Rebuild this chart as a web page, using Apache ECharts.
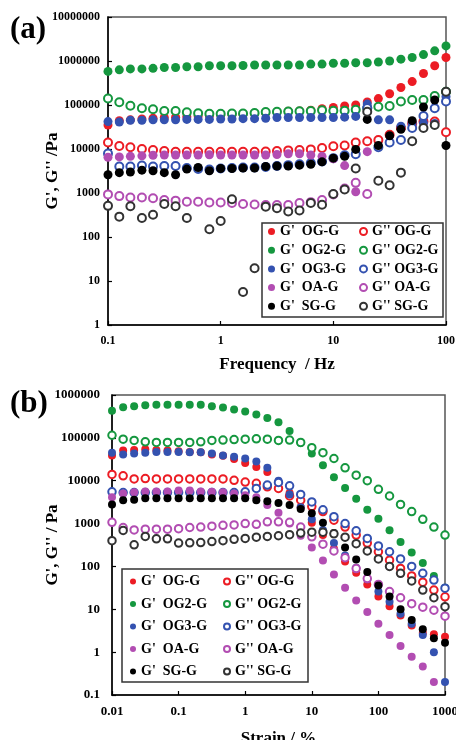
<!DOCTYPE html>
<html>
<head>
<meta charset="utf-8">
<title>G', G'' sweeps</title>
<script src="https://cdn.jsdelivr.net/npm/echarts@6/dist/echarts.min.js"></script>
<style>
    html, body { margin: 0; padding: 0; background: #fff; }
    #chart { width: 456px; height: 740px; }
</style>
</head>
<body>
<div id="chart"></div>
<script>
// (a) frequency sweep, 10 points per decade
const freqA = [0.1, 0.126, 0.158, 0.2, 0.251, 0.316, 0.398, 0.501, 0.631, 0.794,
    1, 1.26, 1.58, 2, 2.51, 3.16, 3.98, 5.01, 6.31, 7.94,
    10, 12.6, 15.8, 20, 25.1, 31.6, 39.8, 50.1, 63.1, 79.4, 100];

const a_OG_Gp = [3.5e4, 4.4e4, 4.6e4, 4.8e4, 5.0e4, 5.2e4, 5.3e4, 5.4e4, 5.6e4, 5.7e4, 5.9e4, 6.0e4, 6.2e4, 6.4e4, 6.6e4, 7.0e4, 7.2e4, 7.3e4, 7.6e4, 8.2e4, 8.8e4, 9.5e4, 1.0e5, 1.17e5, 1.4e5, 1.8e5, 2.5e5, 3.4e5, 5.2e5, 7.8e5, 1.2e6];
const a_OG_Gpp = [1.4e4, 1.17e4, 1.1e4, 1.0e4, 9.5e3, 9.0e3, 8.7e3, 8.7e3, 8.7e3, 8.7e3, 8.7e3, 8.7e3, 8.7e3, 8.7e3, 8.8e3, 9.0e3, 9.3e3, 9.5e3, 9.8e3, 1.05e4, 1.15e4, 1.2e4, 1.4e4, 1.5e4, 1.6e4, 2.1e4, 3.0e4, 3.8e4, 4.2e4, 4.2e4, 2.4e4];
const a_OG2_Gp = [5.8e5, 6.3e5, 6.6e5, 6.6e5, 6.8e5, 7.1e5, 7.1e5, 7.4e5, 7.4e5, 7.8e5, 7.8e5, 7.8e5, 7.9e5, 8.1e5, 8.1e5, 8.1e5, 8.1e5, 8.1e5, 8.5e5, 8.5e5, 8.9e5, 8.9e5, 9.1e5, 9.1e5, 9.5e5, 1.0e6, 1.1e6, 1.2e6, 1.4e6, 1.7e6, 2.2e6];
const a_OG2_Gpp = [1.4e5, 1.15e5, 9.6e4, 8.4e4, 8.0e4, 7.3e4, 7.3e4, 6.8e4, 6.5e4, 6.3e4, 6.3e4, 6.4e4, 6.4e4, 6.6e4, 6.9e4, 7.0e4, 7.1e4, 7.2e4, 7.3e4, 7.6e4, 7.4e4, 7.4e4, 7.8e4, 8.5e4, 9.1e4, 9.5e4, 1.2e5, 1.3e5, 1.3e5, 1.6e5, 2.0e5];
const a_OG3_Gp = [4.2e4, 4.1e4, 4.5e4, 4.5e4, 4.6e4, 4.6e4, 4.6e4, 4.7e4, 4.7e4, 4.7e4, 4.8e4, 4.8e4, 4.9e4, 4.9e4, 5.0e4, 5.2e4, 5.2e4, 5.2e4, 5.2e4, 5.2e4, 5.2e4, 5.3e4, 5.5e4, 1.05e5, 4.6e4, 4.6e4, 3.3e4, 3.9e4, 3.9e4, 3.8e4, 1.55e5];
const a_OG3_Gpp = [7.9e3, 4.0e3, 4.0e3, 4.2e3, 4.0e3, 4.1e3, 4.1e3, 3.7e3, 3.5e3, 3.4e3, 3.6e3, 3.7e3, 3.8e3, 3.8e3, 3.9e3, 4.1e3, 4.3e3, 4.5e3, 4.8e3, 5.2e3, 6.2e3, 7.2e3, 7.6e3, 8.5e4, 1.1e4, 1.4e4, 1.6e4, 3.0e4, 5.6e4, 8.4e4, 1.2e5];
const a_OA_Gp = [6.5e3, 6.6e3, 6.8e3, 7.0e3, 7.2e3, 7.3e3, 7.3e3, 7.3e3, 7.3e3, 7.4e3, 7.3e3, 7.3e3, 7.3e3, 7.3e3, 7.3e3, 7.5e3, 7.8e3, 7.8e3, 7.3e3, 6.8e3, 6.0e3, 4.2e3, 1.07e3, 8.7e3, null, null, null, null, null, null, null];
const a_OA_Gpp = [930, 850, 790, 790, 760, 690, 670, 630, 630, 610, 610, 590, 560, 550, 535, 535, 535, 590, 620, 690, 930, 1260, 1700, 950, null, null, null, null, null, null, null];
const a_SG_Gp = [2.6e3, 2.9e3, 3.0e3, 3.3e3, 3.2e3, 2.9e3, 2.6e3, 3.5e3, 3.8e3, 3.2e3, 3.6e3, 3.6e3, 3.7e3, 3.7e3, 4.0e3, 4.1e3, 4.1e3, 4.3e3, 4.5e3, 5.1e3, 6.2e3, 6.8e3, 9.8e3, 4.7e4, 1.2e4, 2.0e4, 2.8e4, 4.4e4, 9.0e4, 1.3e5, 1.2e4];
const a_SG_Gpp = [510, 290, 500, 270, 320, 560, 500, 270, null, 150, 230, 720, 5.6, 19.5, 490, 450, 380, 400, 590, 540, 950, 1200, 3600, 7.0e4, 1900, 1500, 2900, 1.5e4, 3.0e4, 3.5e4, 2.0e5];

// (b) strain sweep, 6 points per decade
const strainB = [0.01, 0.0147, 0.0215, 0.0316, 0.0464, 0.0681, 0.1, 0.147, 0.215, 0.316, 0.464, 0.681,
    1, 1.47, 2.15, 3.16, 4.64, 6.81, 10, 14.7, 21.5, 31.6, 46.4, 68.1,
    100, 147, 215, 316, 464, 681, 1000];

const b_OG_Gp = [3.9e4, 5.1e4, 5.2e4, 5.4e4, 5.2e4, 5.1e4, 4.9e4, 4.7e4, 4.6e4, 4.1e4, 3.8e4, 3.2e4, 2.6e4, 2.1e4, 1.6e4, 8.9e3, 5.2e3, 2.4e3, 1.05e3, 540, 260, 130, 71, 38, 20, 11.7, 7.2, 4.2, 2.8, 2.6, 2.3];
const b_OG_Gpp = [1.4e4, 1.3e4, 1.1e4, 1.12e4, 1.1e4, 1.1e4, 1.1e4, 1.1e4, 1.1e4, 1.1e4, 1.1e4, 1.02e4, 9.3e3, 8.7e3, 7.2e3, 6.6e3, 4.4e3, 3.5e3, 2.5e3, 1.9e3, 1.2e3, 830, 540, 350, 220, 140, 90, 60, 43, 28, 19.5];
const b_OG2_Gp = [4.3e5, 5.2e5, 5.5e5, 5.8e5, 5.9e5, 5.9e5, 5.9e5, 5.9e5, 5.9e5, 5.5e5, 5.1e5, 4.6e5, 4.1e5, 3.5e5, 2.9e5, 2.3e5, 1.45e5, 7.6e4, 4.3e4, 2.3e4, 1.2e4, 6.8e3, 3.8e3, 2.1e3, 1.3e3, 700, 370, 210, 120, 60, 32];
const b_OG2_Gpp = [1.15e5, 9.3e4, 8.7e4, 8.1e4, 7.8e4, 7.8e4, 7.8e4, 7.8e4, 8.1e4, 8.7e4, 8.9e4, 9.1e4, 9.3e4, 9.5e4, 9.3e4, 8.7e4, 8.9e4, 7.8e4, 5.9e4, 4.5e4, 3.3e4, 2.0e4, 1.35e4, 1.0e4, 6.3e3, 4.4e3, 2.8e3, 1.9e3, 1.26e3, 830, 540];
const b_OG3_Gp = [4.5e4, 4.1e4, 4.3e4, 4.5e4, 4.7e4, 4.7e4, 4.7e4, 4.6e4, 4.6e4, 4.3e4, 3.9e4, 3.6e4, 3.3e4, 2.8e4, 2.0e4, 1.0e4, 4.8e3, 2.4e3, 1.26e3, 710, 350, 180, 93, 50, 26, 15, 7.9, 4.6, 2.5, 1.0, 0.2];
const b_OG3_Gpp = [5.5e3, 5.3e3, 5.3e3, 5.3e3, 5.3e3, 5.3e3, 5.3e3, 5.3e3, 5.3e3, 5.3e3, 5.3e3, 5.3e3, 5.5e3, 6.6e3, 7.9e3, 9.1e3, 7.6e3, 4.8e3, 3.2e3, 2.1e3, 1.45e3, 1.0e3, 680, 450, 300, 220, 150, 100, 69, 48, 31];
const b_OA_Gp = [4.1e3, 5.0e3, 5.4e3, 5.6e3, 5.6e3, 5.6e3, 5.9e3, 5.9e3, 5.6e3, 5.5e3, 5.4e3, 5.0e3, 4.6e3, 4.1e3, 2.7e3, 1.8e3, 1.0e3, 520, 275, 138, 65, 32, 16, 8.7, 4.6, 2.5, 1.4, 0.78, 0.46, 0.2, null];
const b_OA_Gpp = [1070, 810, 710, 740, 740, 740, 760, 810, 830, 870, 910, 930, 1000, 960, 1100, 1100, 1070, 830, 490, 330, 230, 160, 89, 52, 38, 26, 18.6, 13.5, 11.2, 9.5, 6.9];
const b_SG_Gp = [2.8e3, 3.5e3, 3.6e3, 3.9e3, 3.9e3, 3.9e3, 3.9e3, 3.9e3, 3.9e3, 3.9e3, 3.9e3, 3.9e3, 3.9e3, 3.5e3, 3.3e3, 3.0e3, 2.7e3, 2.2e3, 1.75e3, 1.05e3, 600, 275, 145, 74, 36, 20, 10, 5.6, 3.4, 2.1, 1.65];
const b_SG_Gpp = [400, 690, 320, 500, 440, 440, 350, 355, 360, 380, 400, 430, 450, 480, 500, 520, 550, 600, 630, 630, 575, 480, 340, 230, 150, 100, 69, 46, 28, 18.6, 11.5];

// tick labels, one per decade
const xTicksA = ['0.1', '1', '10', '100'];
const yTicksA = ['1', '10', '100', '1000', '10000', '100000', '1000000', '10000000'];
const xTicksB = ['0.01', '0.1', '1', '10', '100', '1000'];
const yTicksB = ['0.1', '1', '10', '100', '1000', '10000', '100000', '1000000'];

const samples = ['OG-G', 'OG2-G', 'OG3-G', 'OA-G', 'SG-G'];
const dotColors = ['#ec1c24', '#15973f', '#3452b0', '#b24db2', '#000000'];
const ringColors = ['#ec1c24', '#15973f', '#3452b0', '#b24db2', '#333333'];

const font = 'Liberation Serif';

function toPoints(xs, ys) {
    return xs.map((x, i) => [x, ys[i]]).filter(p => p[1] != null);
}

// G' filled, G'' open, in legend order so later ones sit on top
function buildSeries(xs, sets, idx, dot, ring) {
    const out = [];
    sets.forEach((s, i) => {
        out.push({
            name: "G'  " + samples[i], type: 'scatter',
            xAxisIndex: idx, yAxisIndex: idx,
            symbol: 'circle', symbolSize: dot,
            itemStyle: {color: dotColors[i], opacity: 1},
            data: toPoints(xs, s[0])
        });
        out.push({
            name: "G'' " + samples[i], type: 'scatter',
            xAxisIndex: idx, yAxisIndex: idx,
            symbol: 'emptyCircle', symbolSize: ring,
            itemStyle: {color: ringColors[i], borderWidth: 1.3, opacity: 1},
            data: toPoints(xs, s[1])
        });
    });
    return out;
}

function tickLabel(list, firstExp) {
    return v => list[Math.round(Math.log10(v)) - firstExp];
}

function logAxis(grid, min, max, list, firstExp, size, margin, name, gap) {
    return {
        type: 'log', logBase: 10, gridIndex: grid, min: min, max: max,
        axisLine: {lineStyle: {color: '#000', width: 1.5}},
        axisTick: {inside: true, length: 4, lineStyle: {color: '#000', width: 1.2}},
        minorTick: {show: false},
        splitLine: {show: false},
        axisLabel: {
            formatter: tickLabel(list, firstExp), margin: margin,
            fontFamily: font, fontWeight: 'bold', fontSize: size, color: '#000'
        },
        name: name, nameLocation: 'middle', nameGap: gap, nameMoveOverlap: false,
        nameTextStyle: {fontFamily: font, fontWeight: 'bold', fontSize: 17, color: '#000'}
    };
}

function legendCol(names, left, top, gap, icon) {
    return {
        data: names, orient: 'vertical', left: left, top: top, padding: 0,
        itemWidth: icon, itemHeight: icon, itemGap: gap, selectedMode: false,
        textStyle: {fontFamily: font, fontWeight: 'bold', fontSize: 14, color: '#000', lineHeight: 15}
    };
}

const setsA = [[a_OG_Gp, a_OG_Gpp], [a_OG2_Gp, a_OG2_Gpp], [a_OG3_Gp, a_OG3_Gpp], [a_OA_Gp, a_OA_Gpp], [a_SG_Gp, a_SG_Gpp]];
const setsB = [[b_OG_Gp, b_OG_Gpp], [b_OG2_Gp, b_OG2_Gpp], [b_OG3_Gp, b_OG3_Gpp], [b_OA_Gp, b_OA_Gpp], [b_SG_Gp, b_SG_Gpp]];

const gpNames = samples.map(s => "G'  " + s);
const gppNames = samples.map(s => "G'' " + s);

const option = {
    animation: false,
    backgroundColor: '#fff',
    grid: [
        {left: 108, top: 17, width: 338, height: 308, show: true, borderColor: '#555', borderWidth: 1.5,
            outerBoundsMode: 'none'},
        {left: 112, top: 395, width: 333, height: 300, show: true, borderColor: '#555', borderWidth: 1.5,
            outerBoundsMode: 'none'}
    ],
    xAxis: [
        logAxis(0, 0.1, 100, xTicksA, -1, 12, 10, 'Frequency  / Hz', 31),
        logAxis(1, 0.01, 1000, xTicksB, -2, 13, 10, 'Strain / %', 35)
    ],
    yAxis: [
        logAxis(0, 1, 1e7, yTicksA, 0, 12, 8, "G', G'' /Pa", 47),
        logAxis(1, 0.1, 1e6, yTicksB, -1, 13, 12, "G', G'' / Pa", 51)
    ],
    legend: [
        legendCol(gpNames, 268, 224, 3.7, 7),
        legendCol(gppNames, 359, 224, 3.7, 7),
        legendCol(gpNames, 130, 574, 7.5, 6),
        legendCol(gppNames, 223, 574, 7.5, 6)
    ],
    graphic: [
        {type: 'rect', shape: {x: 262, y: 223, width: 181, height: 94},
            style: {fill: 'none', stroke: '#333', lineWidth: 1.5}},
        {type: 'rect', shape: {x: 122, y: 569, width: 186, height: 113},
            style: {fill: 'none', stroke: '#333', lineWidth: 1.5}},
        {type: 'text', left: 10, top: 14,
            style: {text: '(a)', fontFamily: font, fontWeight: 'bold', fontSize: 31, fill: '#000'}},
        {type: 'text', left: 10, top: 388,
            style: {text: '(b)', fontFamily: font, fontWeight: 'bold', fontSize: 31, fill: '#000'}}
    ],
    series: buildSeries(freqA, setsA, 0, 9, 8).concat(buildSeries(strainB, setsB, 1, 8, 7.5))
};

const chart = echarts.init(document.getElementById('chart'));
chart.setOption(option);
window.addEventListener('resize', () => chart.resize());
</script>
</body>
</html>
